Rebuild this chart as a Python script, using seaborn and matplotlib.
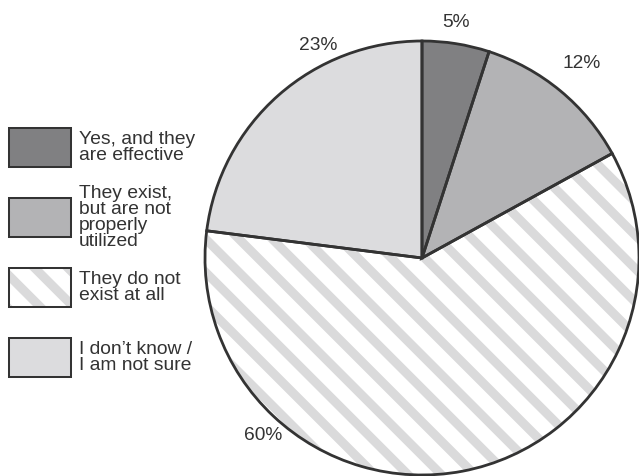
import matplotlib
matplotlib.use("Agg")
import matplotlib.pyplot as plt
from matplotlib.patches import Rectangle
import numpy as np
import seaborn as sns

# Survey responses (share of respondents, %)
categories = [
    "Yes, and they\nare effective",
    "They exist,\nbut are not\nproperly\nutilized",
    "They do not\nexist at all",
    "I don\u2019t know /\nI am not sure",
]
shares = [5, 12, 60, 23]

sns.set_theme(style="white")
plt.rcParams["font.family"] = ["Liberation Sans", "DejaVu Sans"]
plt.rcParams["hatch.linewidth"] = 6.5

fills = ["#808082", "#b3b3b5", "#ffffff", "#dcdcde"]
hatches = [None, None, "\\", None]
stripe = "#dadadb"
edge = "#333333"

W, H, DPI = 639, 476, 100
fig = plt.figure(figsize=(W / DPI, H / DPI), dpi=DPI)
ax = fig.add_axes([0, 0, 1, 1])

# pie geometry in pixels
cx, cy, R = 422, 218, 217

# filled wedges (hatch drawn in a light grey)
wedges, _ = ax.pie(shares, colors=fills, startangle=90, counterclock=False,
                   radius=1, wedgeprops=dict(linewidth=0))
for w, h in zip(wedges, hatches):
    if h:
        w.set_hatch(h)
        w.set_edgecolor(stripe)

# dark outlines on top
ax.pie(shares, colors=["none"] * len(shares), startangle=90, counterclock=False,
       radius=1, wedgeprops=dict(linewidth=2.0, edgecolor=edge, facecolor="none"))
ax.set_xlim(-cx / R, (W - cx) / R)
ax.set_ylim(-cy / R, (H - cy) / R)
ax.set_aspect("auto")
ax.axis("off")

# percentage labels: (angle in degrees, radius) for each slice
label_pos = [(81.8, 1.095), (50.5, 1.16), (228.2, 1.10), (116.0, 1.09)]
for v, (ang, r) in zip(shares, label_pos):
    a = np.deg2rad(ang)
    ax.text(r * np.cos(a), r * np.sin(a), f"{v}%", ha="center", va="center",
            fontsize=13.8, color="#333333")

# legend swatches
box_x, box_w, box_h = 9, 62, 39
box_centers = [147.5, 217.5, 287.5, 357.5]
for lab, f, h, yc in zip(categories, fills, hatches, box_centers):
    y0 = H - yc - box_h / 2
    fig.add_artist(Rectangle((box_x / W, y0 / H), box_w / W, box_h / H,
                             transform=fig.transFigure, facecolor=f,
                             edgecolor=stripe if h else "none",
                             hatch=h, linewidth=0))
    fig.add_artist(Rectangle((box_x / W, y0 / H), box_w / W, box_h / H,
                             transform=fig.transFigure, facecolor="none",
                             edgecolor=edge, linewidth=1.45))
    fig.text(79 / W, (H - yc) / H, lab, ha="left", va="center",
             fontsize=13.9, color="#333333", linespacing=0.93)

fig.savefig("out.png", dpi=DPI, facecolor="white")
